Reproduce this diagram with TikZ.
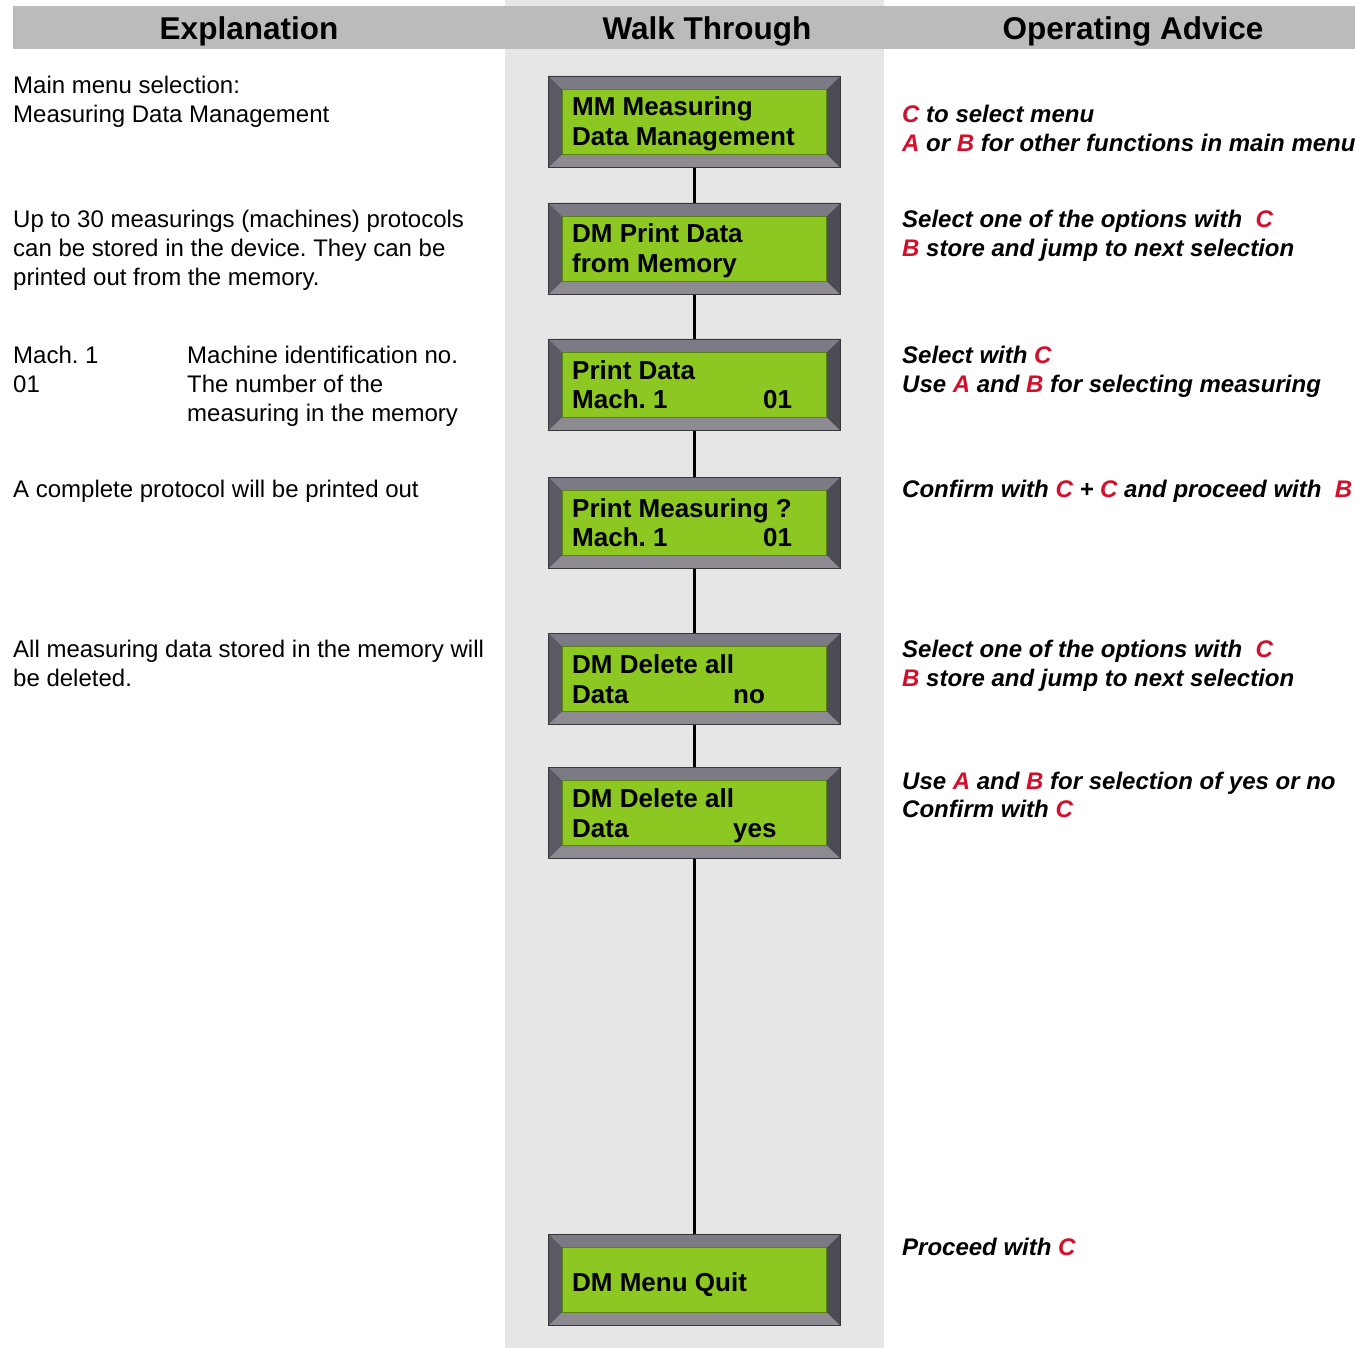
\documentclass[tikz,border=0pt]{standalone}
\usepackage{fontspec}
\setmainfont{Liberation Sans}
\frenchspacing
\definecolor{hdr}{HTML}{BBBBBB}
\definecolor{midcol}{HTML}{E6E6E6}
\definecolor{lcdgreen}{HTML}{8CC821}
\definecolor{frmmid}{HTML}{68686F}
\definecolor{frmtop}{HTML}{7C7A84}
\definecolor{frmside}{HTML}{5A5A63}
\definecolor{frmbot}{HTML}{8E8A92}
\definecolor{keyred}{HTML}{D2102C}
\tikzset{
  txt/.style={anchor=base west,inner sep=0pt,font=\fontsize{24}{29}\selectfont},
  adv/.style={anchor=base west,inner sep=0pt,font=\fontsize{24}{29}\selectfont\bfseries\itshape},
  head/.style={anchor=base,inner sep=0pt,font=\fontsize{31.5}{36}\selectfont\bfseries},
  lcdtxt/.style={anchor=base west,inner sep=0pt,font=\fontsize{26}{30}\selectfont\bfseries},
  outerbox/.style={draw=frmside!70!black,line width=0.8pt,fill=frmmid,minimum width=292pt,minimum height=91pt,inner sep=0pt,anchor=north west},
  innerbox/.style={draw=lcdgreen!70!black,line width=0.6pt,fill=lcdgreen,minimum width=264pt,minimum height=64pt,inner sep=0pt},
  link/.style={line width=2.6pt,black}
}
\newcommand{\K}[1]{\textcolor{keyred}{#1}}
% \lcdbox{name}{ytop}
\newcommand{\lcdbox}[2]{%
  \node[outerbox] (#1) at (548,#2) {};
  \node[innerbox] (#1i) at (#1.center) {};
  \fill[frmtop] (#1.north west) -- (#1.north east) -- (#1i.north east) -- (#1i.north west) -- cycle;
  \fill[frmbot] (#1.south west) -- (#1.south east) -- (#1i.south east) -- (#1i.south west) -- cycle;
  \fill[frmside] (#1.north west) -- (#1i.north west) -- (#1i.south west) -- (#1.south west) -- cycle;
  \fill[frmside!85!black] (#1.north east) -- (#1i.north east) -- (#1i.south east) -- (#1.south east) -- cycle;
  \draw[frmside!60!black,line width=0.8pt] (#1.north west) rectangle (#1.south east);
  \draw[lcdgreen!65!black,line width=0.8pt,fill=lcdgreen] (#1i.north west) rectangle (#1i.south east);
}
\begin{document}
\begin{tikzpicture}[x=1pt,y=-1pt]
\useasboundingbox (0,0) rectangle (1355,1348);
\fill[white] (0,0) rectangle (1355,1348);
\fill[midcol] (505,0) rectangle (884,1348);
\fill[hdr] (13,6) rectangle (1355,49);
\node[head] (h1) at (249,40) {Explanation};
\node[head] (h2) at (707,40) {Walk Through};
\node[head] (h3) at (1133,40) {Operating Advice};

% LCD boxes
\lcdbox{b1}{76}
\lcdbox{b2}{203}
\lcdbox{b3}{339}
\lcdbox{b4}{477}
\lcdbox{b5}{633}
\lcdbox{b6}{767}
\lcdbox{b7}{1234}

\node[lcdtxt] (t1a) at (572,116) {MM Measuring};
\node[lcdtxt] (t1b) at (572,146) {Data Management};
\node[lcdtxt] (t2a) at (572,243) {DM Print Data};
\node[lcdtxt] (t2b) at (572,273) {from Memory};
\node[lcdtxt] (t3a) at (572,379) {Print Data};
\node[lcdtxt] (t3b) at (572,408) {Mach. 1};
\node[lcdtxt] (t3c) at (763,408) {01};
\node[lcdtxt] (t4a) at (572,517) {Print Measuring ?};
\node[lcdtxt] (t4b) at (572,546) {Mach. 1};
\node[lcdtxt] (t4c) at (763,546) {01};
\node[lcdtxt] (t5a) at (572,673) {DM Delete all};
\node[lcdtxt] (t5b) at (572,703) {Data};
\node[lcdtxt] (t5c) at (733,703) {no};
\node[lcdtxt] (t6a) at (572,807) {DM Delete all};
\node[lcdtxt] (t6b) at (572,837) {Data};
\node[lcdtxt] (t6c) at (733,837) {yes};
\node[lcdtxt] (t7a) at (572,1291) {DM Menu Quit};

% connectors between boxes
\draw[link] (b1.south) -- (b2.north);
\draw[link] (b2.south) -- (b3.north);
\draw[link] (b3.south) -- (b4.north);
\draw[link] (b4.south) -- (b5.north);
\draw[link] (b5.south) -- (b6.north);
\draw[link] (b6.south) -- (b7.north);

% Explanation column
\node[txt] (e1a) at (13,94) {Main menu selection:};
\node[txt] (e1b) at (13,123) {Measuring Data Management};
\node[txt] (e2a) at (13,228) {Up to 30 measurings (machines) protocols};
\node[txt] (e2b) at (13,257) {can be stored in the device. They can be};
\node[txt] (e2c) at (13,286) {printed out from the memory.};
\node[txt] (e3a) at (13,363) {Mach. 1};
\node[txt] (e3b) at (13,392) {01};
\node[txt] (e3c) at (187,363) {Machine identification no.};
\node[txt] (e3d) at (187,392) {The number of the};
\node[txt] (e3e) at (187,421) {measuring in the memory};
\node[txt] (e4a) at (13,497) {A complete protocol will be printed out};
\node[txt] (e5a) at (13,657) {All measuring data stored in the memory will};
\node[txt] (e5b) at (13,686) {be deleted.};

% Operating advice column
\node[adv] (a1a) at (902,123) {\K{C} to select menu};
\node[adv] (a1b) at (902,152) {\K{A} or \K{B} for other functions in main menu};
\node[adv] (a2a) at (902,228) {Select one of the options with \ \K{C}};
\node[adv] (a2b) at (902,257) {\K{B} store and jump to next selection};
\node[adv] (a3a) at (902,363) {Select with \K{C}};
\node[adv] (a3b) at (902,392) {Use \K{A} and \K{B} for selecting measuring};
\node[adv] (a4a) at (902,497) {Confirm with \K{C} + \K{C} and proceed with \ \K{B}};
\node[adv] (a5a) at (902,657) {Select one of the options with \ \K{C}};
\node[adv] (a5b) at (902,686) {\K{B} store and jump to next selection};
\node[adv] (a6a) at (902,789) {Use \K{A} and \K{B} for selection of yes or no};
\node[adv] (a6b) at (902,817) {Confirm with \K{C}};
\node[adv] (a7a) at (902,1255) {Proceed with \K{C}};
\end{tikzpicture}
\end{document}
